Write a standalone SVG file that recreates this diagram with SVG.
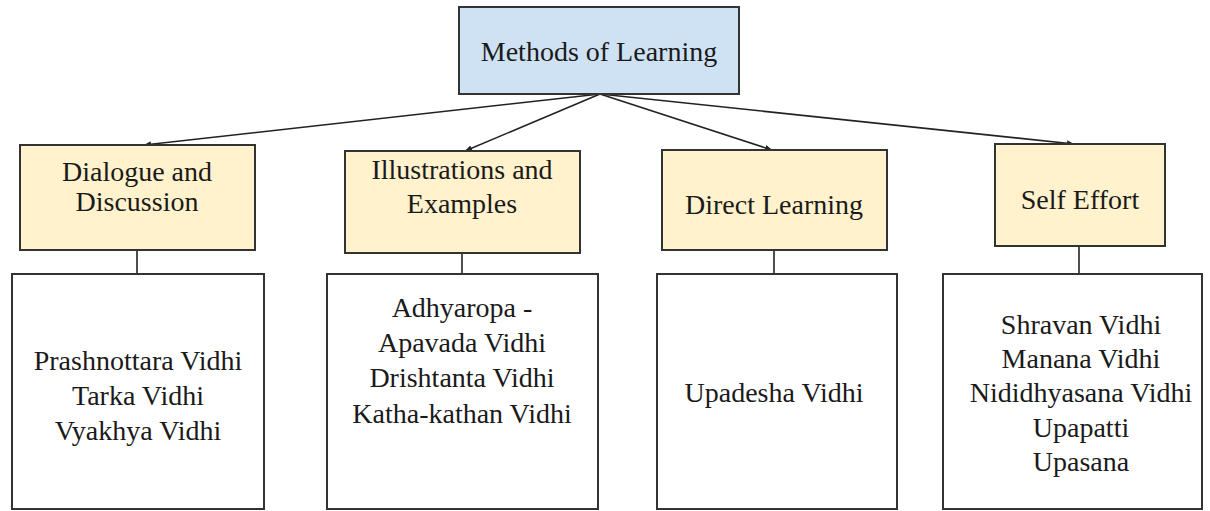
<svg xmlns="http://www.w3.org/2000/svg" width="1210" height="511" viewBox="0 0 1210 511">
<defs>
<marker id="ah" markerWidth="8" markerHeight="8" refX="7" refY="4" orient="auto" markerUnits="userSpaceOnUse">
<path d="M0,1 L7,4 L0,7 z" fill="#222"/>
</marker>
<style>
.root{fill:#cfe2f3;stroke:#333;stroke-width:2}
.mid{fill:#fff2cc;stroke:#333;stroke-width:2}
.leaf{fill:#fff;stroke:#333;stroke-width:2}
.t{font-family:"Liberation Serif","Times New Roman",serif;font-size:28px;fill:#1a1a1a;text-anchor:middle}
.c{stroke:#222;stroke-width:1.6;fill:none}
</style>
</defs>
<rect width="1210" height="511" fill="#fff"/>
<g id="connectors">
<line class="c" x1="600" y1="94" x2="144" y2="145" marker-end="url(#ah)"/>
<line class="c" x1="600" y1="94" x2="465" y2="151" marker-end="url(#ah)"/>
<line class="c" x1="600" y1="94" x2="772" y2="150" marker-end="url(#ah)"/>
<line class="c" x1="600" y1="94" x2="1074" y2="144" marker-end="url(#ah)"/>
<line class="c" x1="137" y1="250" x2="137" y2="274"/>
<line class="c" x1="462" y1="253" x2="462" y2="274"/>
<line class="c" x1="774" y1="250" x2="774" y2="274"/>
<line class="c" x1="1079" y1="246" x2="1079" y2="274"/>
</g>
<g id="root">
<rect class="root" x="459" y="7" width="280" height="87"/>
<text class="t" x="599" y="61">Methods of Learning</text>
</g>
<g id="dialogue">
<rect class="mid" x="20" y="145" width="235" height="105"/>
<text class="t" x="137" y="181">Dialogue and</text>
<text class="t" x="137" y="211">Discussion</text>
</g>
<g id="illustrations">
<rect class="mid" x="345" y="151" width="235" height="102"/>
<text class="t" x="462" y="179">Illustrations and</text>
<text class="t" x="462" y="213">Examples</text>
</g>
<g id="direct">
<rect class="mid" x="662" y="150" width="225" height="100"/>
<text class="t" x="774" y="214">Direct Learning</text>
</g>
<g id="self">
<rect class="mid" x="995" y="144" width="170" height="102"/>
<text class="t" x="1080" y="209">Self Effort</text>
</g>
<g id="leaf-dialogue">
<rect class="leaf" x="12" y="274" width="252" height="235"/>
<text class="t" x="138" y="370">Prashnottara Vidhi</text>
<text class="t" x="138" y="405">Tarka Vidhi</text>
<text class="t" x="138" y="440">Vyakhya Vidhi</text>
</g>
<g id="leaf-illustrations">
<rect class="leaf" x="327" y="274" width="271" height="235"/>
<text class="t" x="462" y="317">Adhyaropa -</text>
<text class="t" x="462" y="352">Apavada Vidhi</text>
<text class="t" x="462" y="387">Drishtanta Vidhi</text>
<text class="t" x="462" y="423">Katha-kathan Vidhi</text>
</g>
<g id="leaf-direct">
<rect class="leaf" x="657" y="274" width="240" height="235"/>
<text class="t" x="774" y="402">Upadesha Vidhi</text>
</g>
<g id="leaf-self">
<rect class="leaf" x="943" y="274" width="259" height="235"/>
<text class="t" x="1081" y="334">Shravan Vidhi</text>
<text class="t" x="1081" y="368">Manana Vidhi</text>
<text class="t" x="1081" y="402">Nididhyasana Vidhi</text>
<text class="t" x="1081" y="437">Upapatti</text>
<text class="t" x="1081" y="471">Upasana</text>
</g>
</svg>
